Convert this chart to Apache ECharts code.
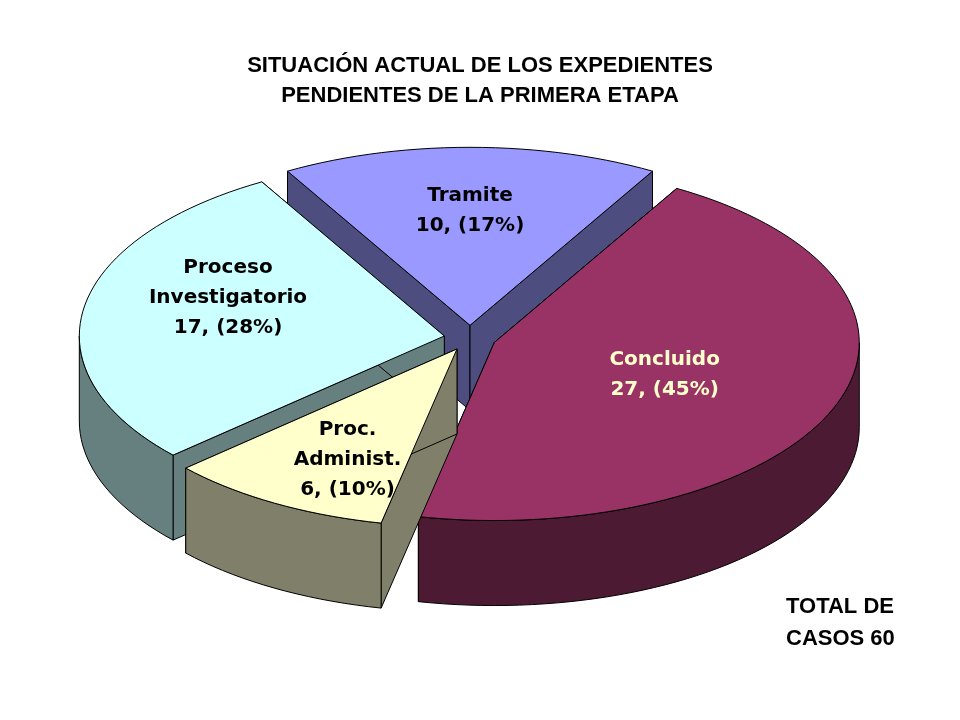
<!DOCTYPE html><html><head><meta charset="utf-8">
<script src="https://cdn.jsdelivr.net/npm/echarts@6/dist/echarts.min.js"></script>
<style>html,body{margin:0;background:#fff}#c{width:960px;height:720px}</style></head><body><div id="c"></div>
<script>
const categories = ['Tramite', 'Concluido', 'Proc.\nAdminist.', 'Proceso\nInvestigatorio'];
const values = [10, 27, 6, 17];
const percents = ['17%', '45%', '10%', '28%'];
const topColors = ['#9999FF', '#993366', '#FFFFCC', '#CCFFFF'];
const sideColors = ['#4D4D80', '#4D1A33', '#80806A', '#668080'];
const labelColors = ['#000', '#FFFFCC', '#000', '#000'];
const labelShiftY = [-8, 0, 18, -22];

const chart = echarts.init(document.getElementById('c'));
const total = values.reduce((a, b) => a + b, 0);
const CX = 470, CY = 338, RX = 365, RY = 178, DEPTH = 85, EXPLODE = 26, START = 120;
const d2r = Math.PI / 180;

function renderItem(params, api) {
  const slices = [];
  let a = START;
  values.forEach((v, i) => {
    const span = v / total * 360;
    const s = a, e = a - span; a = e;
    const mid = (s + e) / 2;
    const cx = CX + EXPLODE * Math.cos(mid * d2r);
    const cy = CY - EXPLODE * RY / RX * Math.sin(mid * d2r);
    slices.push({i, s, e, mid, cx, cy});
  });
  const order = slices.slice().sort((p, q) => Math.sin(q.mid * d2r) - Math.sin(p.mid * d2r));
  const children = [];
  const pt = (sl, t, dz) => [sl.cx + RX * Math.cos(t * d2r), sl.cy - RY * Math.sin(t * d2r) + (dz || 0)];
  const arc = (sl, from, to, dz) => {
    const pts = []; const n = Math.max(2, Math.ceil(Math.abs(from - to) / 2));
    for (let k = 0; k <= n; k++) pts.push(pt(sl, from + (to - from) * k / n, dz));
    return pts;
  };
  const lineStyle = {stroke: '#000', lineWidth: 1};
  order.forEach(sl => {
    const side = sideColors[sl.i];
    [sl.s, sl.e].forEach(t => {
      const p = pt(sl, t);
      children.push({type: 'polygon', shape: {points: [[sl.cx, sl.cy], p, [p[0], p[1] + DEPTH], [sl.cx, sl.cy + DEPTH]]},
        style: Object.assign({fill: side}, lineStyle)});
    });
    const f = Math.min(sl.s, 0), t = Math.max(sl.e, -180);
    if (f > t) {
      const top = arc(sl, f, t, 0), bot = arc(sl, t, f, DEPTH);
      children.push({type: 'polygon', shape: {points: top.concat(bot)}, style: Object.assign({fill: side}, lineStyle)});
    }
    children.push({type: 'polygon', shape: {points: [[sl.cx, sl.cy]].concat(arc(sl, sl.s, sl.e, 0))},
      style: Object.assign({fill: topColors[sl.i]}, lineStyle)});
    const lf = sl.i === 1 ? 0.5 : 0.6;
    children.push({type: 'text', x: sl.cx + RX * lf * Math.cos(sl.mid * d2r), y: sl.cy - RY * lf * Math.sin(sl.mid * d2r) + labelShiftY[sl.i],
      style: {text: categories[sl.i] + '\n' + values[sl.i] + ', (' + percents[sl.i] + ')', align: 'center', verticalAlign: 'middle',
        font: 'bold 20px "DejaVu Sans"', fill: labelColors[sl.i], lineHeight: 30}});
  });
  return {type: 'group', children};
}

chart.setOption({
  animation: false,
  title: [{text: 'SITUACIÓN ACTUAL DE LOS EXPEDIENTES\nPENDIENTES DE LA PRIMERA ETAPA', left: 'center', top: 46,
    textStyle: {fontFamily: 'Liberation Sans', fontWeight: 'bold', fontSize: 22, lineHeight: 30, color: '#000'}},
    {text: 'TOTAL DE\nCASOS 60', left: 781, top: 586,
    textStyle: {fontFamily: 'Liberation Sans', fontWeight: 'bold', fontSize: 22, lineHeight: 32, color: '#000'}}],
  series: [{type: 'custom', coordinateSystem: 'none', renderItem, data: [0]}]
});
</script></body></html>
